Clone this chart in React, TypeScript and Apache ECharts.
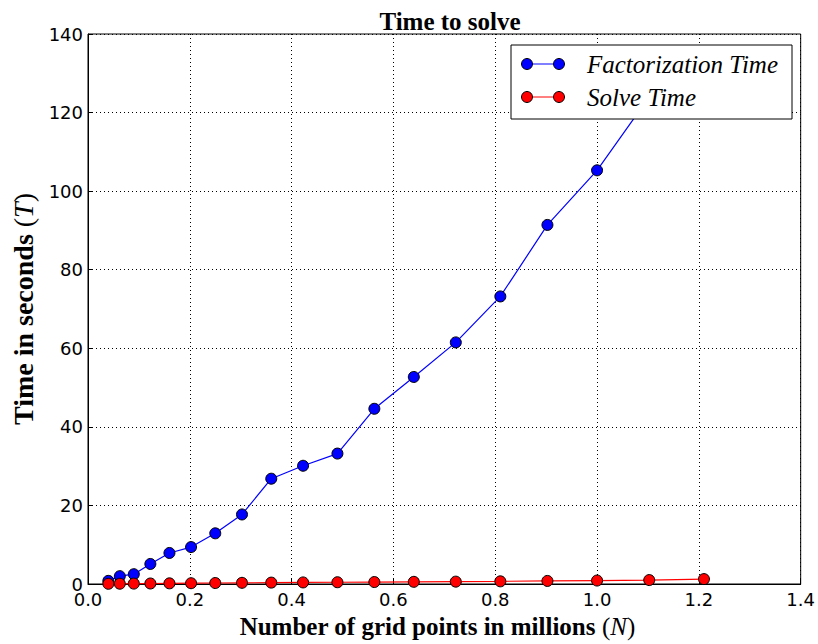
import React, { useEffect, useRef } from "react";
import * as echarts from "echarts";

const factorizationN = [0.04, 0.0625, 0.09, 0.1225, 0.16, 0.2025, 0.25, 0.3025, 0.36, 0.4225, 0.49, 0.5625, 0.64, 0.7225, 0.81, 0.9025, 1.0, 1.1025];
const factorizationTime = [0.8, 2.0, 2.5, 5.1, 7.9, 9.4, 12.9, 17.7, 26.8, 30.1, 33.2, 44.6, 52.7, 61.5, 73.2, 91.4, 105.3, 124.0];
const solveN = [0.04, 0.0625, 0.09, 0.1225, 0.16, 0.2025, 0.25, 0.3025, 0.36, 0.4225, 0.49, 0.5625, 0.64, 0.7225, 0.81, 0.9025, 1.0, 1.1025, 1.21];
const solveTime = [0.05, 0.07, 0.1, 0.13, 0.17, 0.2, 0.25, 0.3, 0.35, 0.4, 0.45, 0.5, 0.55, 0.6, 0.68, 0.78, 0.88, 1.0, 1.25];
const seriesNames = ["Factorization Time", "Solve Time"];
const titleText = "Time to solve";

const pairs = (xs: number[], ys: number[]) => xs.map((x, i) => [x, ys[i]]);

export default function App() {
  const ref = useRef<HTMLDivElement>(null);
  useEffect(() => {
    document.body.style.margin = "0";
    const chart = echarts.init(ref.current!, null, { renderer: "svg" });
    const serif = "'Liberation Serif', 'DejaVu Serif', serif";
    const sans = "'DejaVu Sans', sans-serif";
    const legendRows = [
      { y: 64, color: "#0000ff", name: seriesNames[0] },
      { y: 97, color: "#ff0000", name: seriesNames[1] },
    ];
    const legendEls: any[] = [
      {
        type: "rect",
        shape: { x: 511, y: 45, width: 281, height: 74 },
        style: { fill: "#fff", stroke: "#000", lineWidth: 1 },
        z: 100,
      },
    ];
    legendRows.forEach((r) => {
      legendEls.push({
        type: "line",
        shape: { x1: 527, y1: r.y, x2: 559, y2: r.y },
        style: { stroke: r.color, lineWidth: 1 },
        z: 101,
      });
      [527, 559].forEach((cx) =>
        legendEls.push({
          type: "circle",
          shape: { cx, cy: r.y, r: 5.5 },
          style: { fill: r.color, stroke: "#000", lineWidth: 1 },
          z: 102,
        })
      );
      legendEls.push({
        type: "text",
        x: 587,
        y: r.y,
        style: {
          text: r.name,
          font: `italic 25px ${serif}`,
          fill: "#000",
          verticalAlign: "middle",
          align: "left",
        },
        z: 102,
      });
    });

    const richName = (size: number) => ({
      b: { fontFamily: serif, fontWeight: "bold", fontSize: size, color: "#000" },
      n: { fontFamily: serif, fontSize: size, color: "#000" },
      i: { fontFamily: serif, fontStyle: "italic", fontSize: size, color: "#000" },
    });

    chart.setOption({
      animation: false,
      backgroundColor: "#fff",
      title: {
        text: titleText,
        left: 445,
        textAlign: "center",
        top: 4,
        textStyle: { fontFamily: serif, fontWeight: "bold", fontSize: 25, color: "#000" },
      },
      grid: {
        left: 88,
        right: 16,
        top: 34,
        bottom: 56,
        show: true,
        borderColor: "#000",
        borderWidth: 1,
        backgroundColor: "transparent",
      },
      xAxis: {
        type: "value",
        min: 0,
        max: 1.4,
        interval: 0.2,
        name: "{b|Number of grid points in millions }{n|(}{i|N}{n|)}",
        nameLocation: "middle",
        nameGap: 30,
        nameTextStyle: { rich: richName(25), padding: [0, 14, 0, 0] },
        axisLine: { show: true, lineStyle: { color: "#000", width: 1 } },
        axisTick: { show: true, inside: true, length: 5, lineStyle: { color: "#000" } },
        axisLabel: {
          margin: 6,
          fontFamily: sans,
          fontSize: 18,
          color: "#000",
          formatter: (v: number) => v.toFixed(1),
        },
        splitLine: { show: true, lineStyle: { color: "#000", type: [1, 3], width: 1 } },
      },
      yAxis: {
        type: "value",
        min: 0,
        max: 140,
        interval: 20,
        name: "{b|Time in seconds }{n|(}{i|T}{n|)}",
        nameLocation: "middle",
        nameGap: 50,
        nameTextStyle: { rich: richName(28) },
        axisLine: { show: true, lineStyle: { color: "#000", width: 1 } },
        axisTick: { show: true, inside: true, length: 5, lineStyle: { color: "#000" } },
        axisLabel: { margin: 5, fontFamily: sans, fontSize: 18, color: "#000" },
        splitLine: { show: true, lineStyle: { color: "#000", type: [1, 3], width: 1 } },
      },
      series: [
        {
          name: seriesNames[0],
          type: "line",
          data: pairs(factorizationN, factorizationTime),
          symbol: "circle",
          symbolSize: 11,
          lineStyle: { color: "#0000ff", width: 1.2 },
          itemStyle: { color: "#0000ff", borderColor: "#000", borderWidth: 1 },
          clip: true,
          z: 3,
        },
        {
          name: seriesNames[1],
          type: "line",
          data: pairs(solveN, solveTime),
          symbol: "circle",
          symbolSize: 11,
          lineStyle: { color: "#ff0000", width: 1.2 },
          itemStyle: { color: "#ff0000", borderColor: "#000", borderWidth: 1 },
          clip: false,
          z: 4,
        },
      ],
      graphic: legendEls,
    });
    return () => chart.dispose();
  }, []);
  return <div ref={ref} style={{ width: 818, height: 644 }} />;
}
